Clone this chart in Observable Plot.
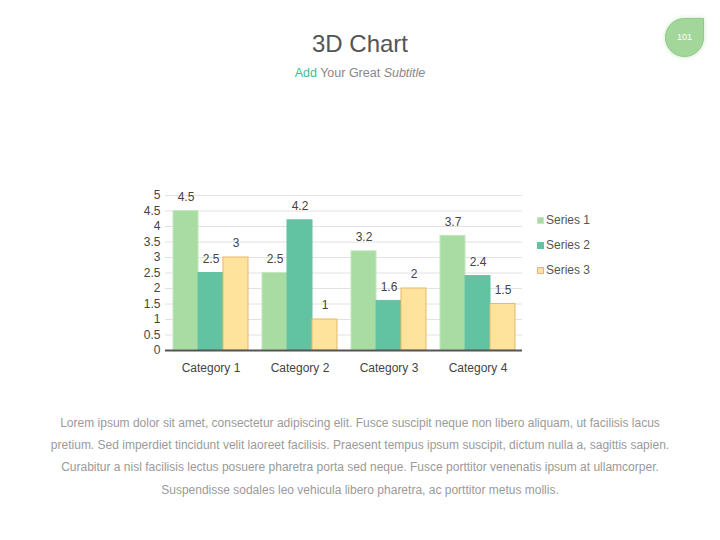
<!DOCTYPE html>
<html>
<head>
<meta charset="utf-8">
<script src="https://cdn.jsdelivr.net/npm/d3@7"></script>
<script src="https://cdn.jsdelivr.net/npm/@observablehq/plot@0.6"></script>
<style>
  html, body { margin: 0; padding: 0; background: #fff; }
  body { width: 720px; height: 540px; position: relative; overflow: hidden;
         font-family: "Liberation Sans", Arial, sans-serif; }
  #title { position: absolute; left: 0; width: 720px; top: 29px; text-align: center;
           font-size: 24px; color: #555; line-height: 30px; }
  #subtitle { position: absolute; left: 0; width: 720px; top: 65px; text-align: center;
              font-size: 12.5px; color: #888; line-height: 16px; }
  #subtitle .add { color: #3dbd96; }
  #subtitle i { font-style: italic; }
  #badge { position: absolute; left: 665px; top: 18px; width: 37px; height: 37px;
           background: #a3d69a; border: 1px solid #8fca86; border-radius: 50% 0 50% 50%;
           box-shadow: 0 0 4px rgba(150,210,140,0.5);
           color: #fff; font-size: 9px; line-height: 37px; text-align: center; }
  #chart { position: absolute; left: 0; top: 170px; }
  #legend { position: absolute; left: 537px; top: 212px; font-size: 12px; color: #555; }
  #legend .item { height: 25px; line-height: 16px; white-space: nowrap; }
  #legend .sw { display: inline-block; width: 7px; height: 7px; margin-right: 2px;
                vertical-align: 0px; box-sizing: border-box; }
  #caption { position: absolute; left: 0; width: 720px; top: 412px; text-align: center;
             font-size: 12px; color: #9a9a9a; line-height: 22.2px; }
</style>
</head>
<body>
<div id="title">3D Chart</div>
<div id="subtitle"><span class="add">Add</span> Your Great <i>Subtitle</i></div>
<div id="badge">101</div>
<div id="chart"></div>
<div id="legend"></div>
<div id="caption"></div>
<script>
const categories = ["Category 1", "Category 2", "Category 3", "Category 4"];
const seriesNames = ["Series 1", "Series 2", "Series 3"];
const series1 = [4.5, 2.5, 3.2, 3.7];
const series2 = [2.5, 4.2, 1.6, 2.4];
const series3 = [3, 1, 2, 1.5];
const yTicks = [0, 0.5, 1, 1.5, 2, 2.5, 3, 3.5, 4, 4.5, 5];
const captionLines = [
  "Lorem ipsum dolor sit amet, consectetur adipiscing elit. Fusce suscipit neque non libero aliquam, ut facilisis lacus",
  "pretium. Sed imperdiet tincidunt velit laoreet facilisis. Praesent tempus ipsum suscipit, dictum nulla a, sagittis sapien.",
  "Curabitur a nisl facilisis lectus posuere pharetra porta sed neque. Fusce porttitor venenatis ipsum at ullamcorper.",
  "Suspendisse sodales leo vehicula libero pharetra, ac porttitor metus mollis."
];

const fills = ["#a9dca3", "#62c3a3", "#fde39b"];
const strokes = ["#c4e8bf", "#62c3a3", "#e6b86c"];

const seriesValues = [series1, series2, series3];
const rows = [];
seriesNames.forEach((s, si) => categories.forEach((c, ci) =>
  rows.push({category: c, series: s, si, value: seriesValues[si][ci]})));

const W = 720, H = 210;
const mL = 165, mR = 198, mT = 25, mB = 30;
const xOpts = {domain: categories, paddingInner: 0.16, paddingOuter: 0.08, range: [mL, W - mR]};
const bw = Plot.scale({x: {type: "band", ...xOpts}}).bandwidth;
const third = bw / 3;

const marks = [
  Plot.ruleY(yTicks.filter(d => d > 0), {stroke: "#e2e2e2", strokeWidth: 1}),
  ...seriesNames.map((s, si) => Plot.barY(rows.filter(r => r.si === si), {
    x: "category", y: "value",
    fill: fills[si], stroke: strokes[si], strokeWidth: 1,
    insetLeft: si * third, insetRight: (2 - si) * third
  })),
  ...seriesNames.map((s, si) => Plot.text(rows.filter(r => r.si === si), {
    x: "category", y: "value", text: d => String(d.value),
    dx: (si - 1) * third, dy: -14, fontSize: 12, fill: "#444"
  })),
  Plot.ruleY([0], {stroke: "#555", strokeWidth: 2})
];

const chart = Plot.plot({
  width: W, height: H,
  marginLeft: mL, marginRight: mR, marginTop: mT, marginBottom: mB,
  style: {fontFamily: "'Liberation Sans', Arial, sans-serif", fontSize: "12px", color: "#444", background: "transparent"},
  x: {type: "band", ...xOpts, label: null, tickSize: 0, tickPadding: 13},
  y: {domain: [0, 5], ticks: yTicks, tickFormat: d => String(d), label: null, tickSize: 0, tickPadding: 5},
  marks
});
document.getElementById("chart").appendChild(chart);

const legend = document.getElementById("legend");
seriesNames.forEach((s, i) => {
  const it = document.createElement("div");
  it.className = "item";
  const sw = document.createElement("span");
  sw.className = "sw";
  sw.style.background = fills[i];
  sw.style.border = "1px solid " + strokes[i];
  it.appendChild(sw);
  it.appendChild(document.createTextNode(s));
  legend.appendChild(it);
});

const cap = document.getElementById("caption");
captionLines.forEach(l => {
  const d = document.createElement("div");
  d.textContent = l;
  cap.appendChild(d);
});
</script>
</body>
</html>
